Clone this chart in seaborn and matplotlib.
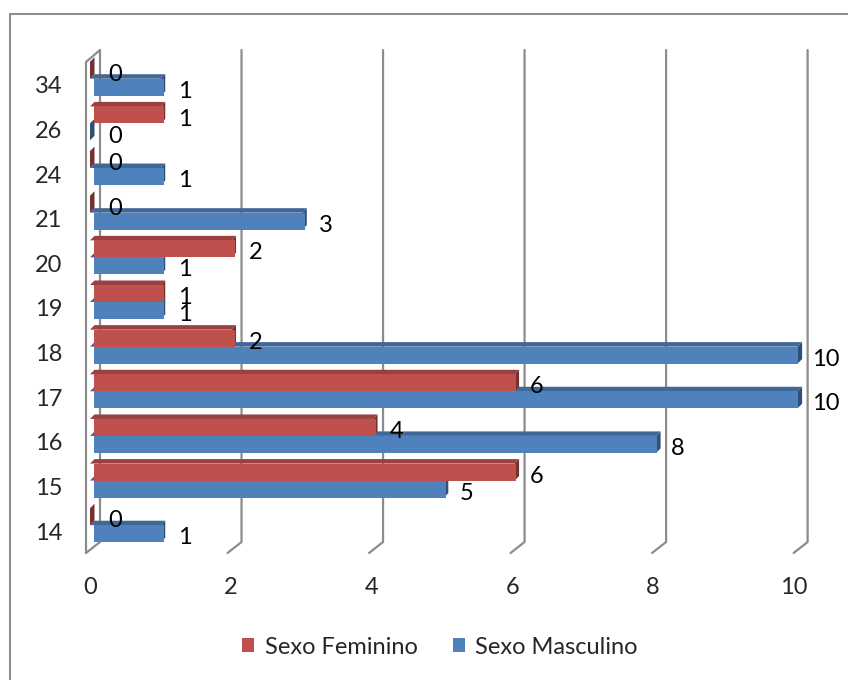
import numpy as np
import pandas as pd
import seaborn as sns
import matplotlib
matplotlib.use("Agg")
import matplotlib.pyplot as plt
from matplotlib.patches import Polygon, Patch
from matplotlib.lines import Line2D
from matplotlib.transforms import IdentityTransform
import matplotlib.colors as mcolors

# Ages (top to bottom) and counts per sex
idades = ["34", "26", "24", "21", "20", "19", "18", "17", "16", "15", "14"]
feminino = [0, 1, 0, 0, 2, 1, 2, 6, 4, 6, 0]
masculino = [1, 0, 1, 3, 1, 1, 10, 10, 8, 5, 1]
series = ["Sexo Feminino", "Sexo Masculino"]
cores = ["#C0504D", "#4F81BD"]
x_ticks = [0, 2, 4, 6, 8, 10]

sns.set_theme(style="white")
plt.rcParams["font.family"] = ["Lato", "DejaVu Sans"]
FS = 17

df = pd.DataFrame({
    "idade": idades * 2,
    "valor": feminino + masculino,
    "sexo": [series[0]] * len(idades) + [series[1]] * len(idades),
})

W, H = 848, 680
fig = plt.figure(figsize=(W / 100, H / 100), dpi=100, facecolor="white")
# plot box in pixels: left 90, right 833, top 43, bottom 552
ax = fig.add_axes([90 / W, 1 - 552 / H, (833 - 90) / W, (552 - 43) / H])
sns.barplot(data=df, x="valor", y="idade", hue="sexo", order=idades,
            hue_order=series, palette=cores, orient="h", width=0.76,
            saturation=1, errorbar=None, legend=False, ax=ax, linewidth=0)
ax.set_xlim(0, 10.5)
ax.set_ylim(10.6, -0.8)
for s in ax.spines.values():
    s.set_visible(False)
ax.set_xlabel("")
ax.set_ylabel("")
ax.set_facecolor("none")

to_disp = ax.transData.transform
ident = IdentityTransform()
GRID = "#8C8C8C"


def px(xp, yp):
    """pixel position (origin top-left) -> display coords"""
    return xp, H - yp


def add_path(points, **kw):
    ax.add_line(Line2D([p[0] for p in points], [p[1] for p in points],
                       transform=ident, clip_on=False, **kw))


# back-wall gridlines with slanted floor segments
for v in x_ticks:
    xv = to_disp((v, 0))[0]
    xb, xf = xv + 10, xv - 4
    add_path([px(xb, 50), px(xb, 542), px(xf, 553)], color=GRID, lw=1.6, zorder=0.5)
# left side wall edge
x0 = to_disp((0, 0))[0]
add_path([px(x0 - 4, 553), px(x0 - 4, 62), px(x0 + 10, 50)], color=GRID, lw=1.6, zorder=0.5)

# 3D faces of the bars, drawn bottom to top so upper bars overlap lower ones
DX, DY = 4.5, 4.5
bars = sorted(ax.patches, key=lambda p: -p.get_y())
for k, p in enumerate(bars):
    base = np.array(mcolors.to_rgb(p.get_facecolor()))
    xa, xb_ = p.get_x(), p.get_x() + p.get_width()
    ya, yb = p.get_y(), p.get_y() + p.get_height()
    X0, Yt = to_disp((xa, ya))
    X1, Yb = to_disp((xb_, yb))
    top = [(X0, Yt), (X1, Yt), (X1 + DX, Yt + DY), (X0 + DX, Yt + DY)]
    side = [(X1, Yt), (X1, Yb), (X1 + DX, Yb + DY), (X1 + DX, Yt + DY)]
    ax.add_patch(Polygon(top, closed=True, transform=ident, clip_on=False,
                         facecolor=base * 0.8, edgecolor="none", zorder=2 + 2 * k))
    ax.add_patch(Polygon(side, closed=True, transform=ident, clip_on=False,
                         facecolor=base * 0.62, edgecolor="none", zorder=2 + 2 * k))
    p.set_zorder(3 + 2 * k)
    p.set_clip_on(False)

# value labels
for p in bars:
    v = p.get_width()
    yc = p.get_y() + p.get_height() / 2
    ax.annotate(f"{v:g}", xy=(v, yc), xytext=(10, -3), textcoords="offset points",
                ha="left", va="center", fontsize=FS, color="black",
                annotation_clip=False, zorder=100)

# axis tick labels
yoff = 6 / 44.65
ax.set_yticks(np.arange(len(idades)) + yoff, idades)
ax.set_xticks(np.array(x_ticks) - 4 / 70.76, [str(t) for t in x_ticks])
ax.tick_params(axis="y", length=0, pad=20, labelsize=FS)
ax.tick_params(axis="x", length=0, pad=18, labelsize=FS)

# legend
handles = [Patch(facecolor=c, edgecolor="none", label=s) for c, s in zip(cores, series)]
fig.legend(handles=handles, loc="center", bbox_to_anchor=(440 / W, 1 - 647 / H),
           ncol=2, frameon=False, handlelength=0.5, handleheight=0.5,
           handletextpad=0.45, columnspacing=1.5, fontsize=FS)

# chart frame
fig.add_artist(Line2D([9.5 / W, 9.5 / W], [0, 1 - 14 / H], transform=fig.transFigure,
                      color=GRID, lw=1.5))
fig.add_artist(Line2D([9.5 / W, 1], [1 - 14 / H, 1 - 14 / H], transform=fig.transFigure,
                      color=GRID, lw=1.5))

fig.savefig("out.png", dpi=100, facecolor="white")
